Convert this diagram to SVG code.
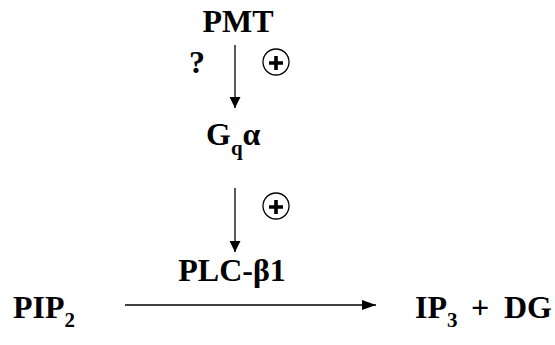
<svg xmlns="http://www.w3.org/2000/svg" width="555" height="345" viewBox="0 0 555 345">
  <style>
    .lbl { font-family: "Liberation Serif", "Times New Roman", serif; font-weight: bold; font-size: 32px; fill: #000; }
    .sub { font-size: 21px; }
    .conn { stroke: #000; stroke-width: 1.3; fill: none; }
    .ring { stroke: #000; stroke-width: 1.3; fill: #fff; }
    .plus { stroke: #000; stroke-width: 3.6; }
  </style>
  <defs>
    <marker id="head" viewBox="0 0 10 10" refX="10" refY="5" markerWidth="11" markerHeight="11" markerUnits="userSpaceOnUse" orient="auto">
      <path d="M0,0 L10,5 L0,10 Z" fill="#000"/>
    </marker>
    <marker id="headWide" viewBox="0 0 14 10" refX="14" refY="5" markerWidth="14" markerHeight="10" markerUnits="userSpaceOnUse" orient="auto">
      <path d="M0,0 L14,5 L0,10 Z" fill="#000"/>
    </marker>
  </defs>

  <g id="pmt"><text class="lbl" x="238" y="32" text-anchor="middle">PMT</text></g>
  <g id="unknown"><text class="lbl" x="197" y="73" text-anchor="middle">?</text></g>
  <g id="gq">
    <text class="lbl" x="206" y="145">G<tspan class="sub" dy="10">q</tspan><tspan dy="-10">α</tspan></text>
  </g>
  <g id="plc"><text class="lbl" x="232" y="281" text-anchor="middle">PLC-β1</text></g>
  <g id="pip2"><text class="lbl" x="13" y="318">PIP<tspan class="sub" dy="9">2</tspan></text></g>
  <g id="products">
    <text class="lbl" x="415" y="318">IP<tspan class="sub" dy="9">3</tspan></text>
    <text class="lbl" x="480" y="318" text-anchor="middle">+</text>
    <text class="lbl" x="552" y="318" text-anchor="end">DG</text>
  </g>

  <g id="stim1">
    <circle class="ring" cx="276" cy="62" r="13"/>
    <path class="plus" d="M269,63 H283 M276,56 V70"/>
  </g>
  <g id="stim2">
    <circle class="ring" cx="276" cy="206" r="13"/>
    <path class="plus" d="M269,207 H283 M276,200 V214"/>
  </g>

  <g id="connectors">
    <line class="conn" x1="235" y1="45" x2="235" y2="108" marker-end="url(#head)"/>
    <line class="conn" x1="235" y1="188" x2="235" y2="252" marker-end="url(#head)"/>
    <line class="conn" x1="125" y1="305" x2="376" y2="305" marker-end="url(#headWide)"/>
  </g>
</svg>
